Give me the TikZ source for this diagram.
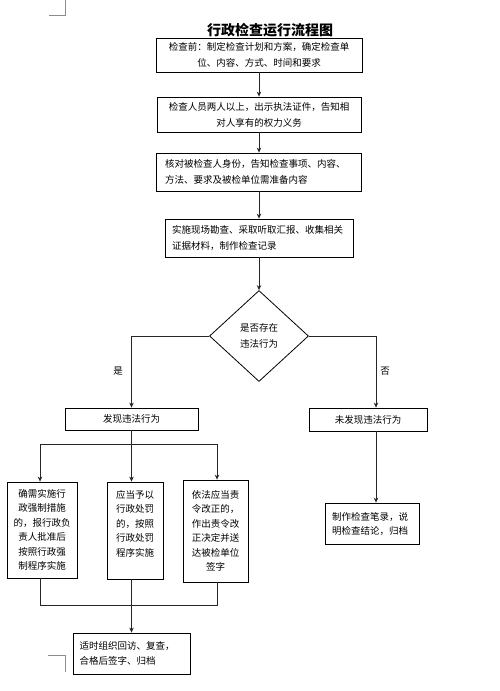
\documentclass[tikz,border=0pt]{standalone}
\usepackage{fontspec}
\setmainfont{Noto Sans CJK SC}
\usetikzlibrary{shapes.geometric,arrows.meta}
\begin{document}
\begin{tikzpicture}[x=1pt,y=-1pt,
  box/.style={draw=black,line width=0.8pt,inner sep=0pt,font=\fontsize{9.5}{16}\selectfont},
  arr/.style={draw=black!85,line width=0.8pt,-{Stealth[length=5pt,width=4.5pt]}},
  ln/.style={draw=black!85,line width=0.8pt},
  cornermark/.style={draw=black!45,line width=0.8pt},
  lab/.style={font=\fontsize{9.5}{11}\selectfont,inner sep=0pt}]
\useasboundingbox[fill=white] (0,0) rectangle (500,691);
% corner marks
\draw[cornermark] (49,15) -- (65,15) -- (65,0);
\draw[cornermark] (48,655) -- (65,655) -- (65,672);
% title
\node[font=\fontsize{14}{16}\bfseries\selectfont,inner sep=0pt] (title) at (270,30) {行政检查运行流程图};
% main column
\node[box,minimum width=206pt,minimum height=34pt,align=center] (b1) at (259,55)
  {检查前：制定检查计划和方案，确定检查单\\位、内容、方式、时间和要求};
\node[box,minimum width=204pt,minimum height=35pt,align=center] (b2) at (259,114.5)
  {检查人员两人以上，出示执法证件，告知相\\对人享有的权力义务};
\node[box,minimum width=205pt,minimum height=38pt,text width=188pt,align=left] (b3) at (259,172)
  {核对被检查人身份，告知检查事项、内容、\\方法、要求及被检单位需准备内容};
\node[box,minimum width=188pt,minimum height=38pt,text width=174pt,align=left] (b4) at (259,238)
  {实施现场勘查、采取听取汇报、收集相关\\证据材料，制作检查记录};
\node[box,shape=diamond,minimum width=99pt,minimum height=91pt,align=center] (d) at (259,336)
  {是否存在\\违法行为};
\draw[arr] (b1.south) -- (b2.north);
\draw[arr] (b2.south) -- (b3.north);
\draw[arr] (b3.south) -- (b4.north);
\draw[arr] (b4.south) -- (d.north);
% branches
\node[box,minimum width=133pt,minimum height=22pt] (fx) at (131.5,419) {发现违法行为};
\node[box,minimum width=118pt,minimum height=23pt] (nf) at (368,419.5) {未发现违法行为};
\coordinate (lb) at (131.5,336);
\coordinate (rb) at (376,336);
\draw[arr] (d.west) -- (lb) -- (fx.north);
\draw[arr] (d.east) -- (rb) -- (rb |- nf.north);
\node[lab] (yes) at (118,371) {是};
\node[lab] (no) at (385,371) {否};
% three boxes
\node[box,minimum width=70pt,minimum height=96pt,align=center,font=\fontsize{9.5}{14.5}\selectfont] (bA) at (42,530)
  {确需实施行\\政强制措施\\的，报行政负\\责人批准后\\按照行政强\\制程序实施};
\node[box,minimum width=56pt,minimum height=97pt,align=left,font=\fontsize{9.5}{14.5}\selectfont] (bB) at (135,530.5)
  {应当予以\\行政处罚\\的，按照\\行政处罚\\程序实施\\~};
\node[box,minimum width=65pt,minimum height=102pt,align=center,font=\fontsize{9.5}{14.5}\selectfont] (bC) at (215.5,531)
  {依法应当责\\令改正的，\\作出责令改\\正决定并送\\达被检单位\\签字};
\coordinate (ta) at (40,444);
\coordinate (tm) at (131.5,444);
\coordinate (tc) at (217,444);
\draw[ln] (fx.south) -- (tm);
\draw[ln] (ta) -- (tc);
\draw[arr] (ta) -- (ta |- bA.north);
\draw[arr] (tm) -- (tm |- bB.north);
\draw[arr] (tc) -- (tc |- bC.north);
% bottom join
\coordinate (ba) at (40,605);
\coordinate (bm) at (131.5,605);
\coordinate (bc) at (217,605);
\node[box,minimum width=117pt,minimum height=41pt,text width=104pt,align=left,font=\fontsize{9.5}{15}\selectfont] (fin) at (131.5,653.5)
  {适时组织回访、复查，\\合格后签字、归档};
\draw[ln] (ba |- bA.south) -- (ba) -- (bc) -- (bc |- bC.south);
\draw[arr] (bm |- bB.south) -- (fin.north);
% right column
\node[box,minimum width=94pt,minimum height=41pt,text width=80pt,align=left,font=\fontsize{9.5}{14}\selectfont] (rec) at (372,523.5)
  {制作检查笔录，说\\明检查结论，归档};
\draw[arr] (rb |- nf.south) -- (rb |- rec.north);
\end{tikzpicture}
\end{document}
